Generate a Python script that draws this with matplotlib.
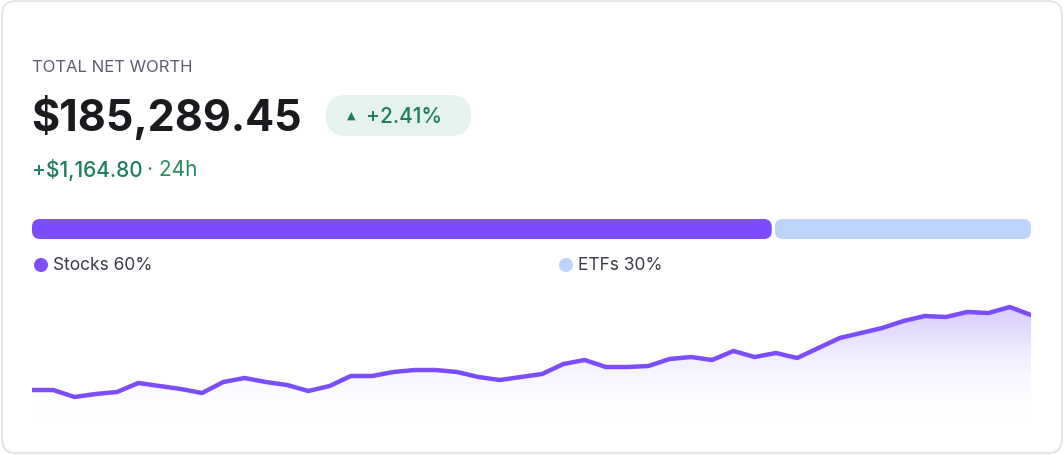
import matplotlib
matplotlib.use("Agg")
import matplotlib.pyplot as plt
import numpy as np
from matplotlib.patches import FancyBboxPatch, Polygon, Circle
from matplotlib.colors import LinearSegmentedColormap

plt.rcParams['font.family'] = ['Inter', 'DejaVu Sans']

title = "TOTAL NET WORTH"
total = "$185,289.45"
change_pct = "+2.41%"
change_abs = "+$1,164.80"
period = "24h"
alloc_labels = ["Stocks 60%", "ETFs 30%"]
alloc_bar_shares = [74.2, 25.8]  # visual split as drawn
alloc_colors = ["#7c4dff", "#bcd4fb"]
history = [29, 29, 22, 25, 27, 36, 33, 30, 26, 37, 41, 37, 34, 28, 33, 43,
           43, 47, 49, 49, 47, 42, 39, 42, 45, 55, 59, 52, 52, 53, 60, 62,
           59, 68, 62, 66, 61, 71, 81, 86, 91, 98, 103, 102, 107, 106, 112, 104]

W, H = 1064, 456
fig = plt.figure(figsize=(W/100, H/100), dpi=100)
fig.patch.set_facecolor("white")

bg = fig.add_axes([0, 0, 1, 1], zorder=0)
bg.set_xlim(0, W)
bg.set_ylim(H, 0)
bg.axis("off")

def rbox(x, y, w, h, r, **kw):
    bg.add_patch(FancyBboxPatch((x + r, y + r), w - 2*r, h - 2*r,
                                boxstyle=f"round,pad={r}", **kw))

rbox(2, 2, W - 4, H - 4, 14, facecolor="white", edgecolor="#e6e6ea", lw=1.5)

bg.text(32, 67, title, fontsize=12, color="#5d5a6e", va="center", ha="left")
bg.text(31, 118, total, fontsize=31, fontweight="bold", color="#1a1a1f", va="center", ha="left")

rbox(326, 96, 145, 41, 20.5, facecolor="#e5f3ec", edgecolor="none")
bg.text(351, 116, "▲", fontsize=8, color="#1a7f5a", va="center", ha="center", family=['DejaVu Sans'])
bg.text(366, 117, change_pct, fontsize=15, color="#1a7f5a", va="center", ha="left", fontweight="medium")

t = bg.text(32, 170, change_abs, fontsize=15, color="#1a7f5a", va="center", ha="left", fontweight="medium")
fig.canvas.draw()
bb = t.get_window_extent()
bg.text(bb.x1 + 4, 170, "· " + period, fontsize=15, color="#2d8a64", va="center", ha="left")

x0, x1, gap = 32, 1031, 3
total_share = sum(alloc_bar_shares)
cur = x0
n = len(alloc_bar_shares)
for i, (s, c) in enumerate(zip(alloc_bar_shares, alloc_colors)):
    w = (x1 - x0) * s / total_share
    left = cur + (gap/2 if i > 0 else 0)
    width = w - (gap/2 if i in (0, n-1) else gap)
    rbox(left, 220, width, 20, 8, facecolor=c, edgecolor="none")
    cur += w

leg_x = [41, 566]
for lx, lab, c in zip(leg_x, alloc_labels, alloc_colors):
    bg.add_patch(Circle((lx, 266), 7, facecolor=c, edgecolor="none"))
    bg.text(lx + 12, 266, lab, fontsize=12.5, color="#3c3a48", va="center", ha="left")

ax = fig.add_axes([32/W, 1 - 425/H, 999/W, 135/H], zorder=2)
ax.patch.set_alpha(0)
xs = np.arange(len(history))
y = np.array(history, dtype=float)
ax.set_xlim(0, len(history) - 1)
ax.set_ylim(-5, 130)
ax.axis("off")
grad = np.linspace(0, 1, 256).reshape(-1, 1)
cmap = LinearSegmentedColormap.from_list("g", [(1, 1, 1, 0), (0.80, 0.74, 1.0, 0.8)])
im = ax.imshow(grad, extent=[0, len(history)-1, -5, max(history)], origin="lower", aspect="auto",
               cmap=cmap, zorder=1)
poly = Polygon(np.vstack([[0, -5], np.column_stack([xs, y]), [len(history)-1, -5]]),
               closed=True, transform=ax.transData, facecolor="none", edgecolor="none")
ax.add_patch(poly)
im.set_clip_path(poly)
ax.plot(xs, y, color="#7c4dff", lw=3.2, solid_joinstyle="round", zorder=3)

fig.savefig("out.png", dpi=100)
